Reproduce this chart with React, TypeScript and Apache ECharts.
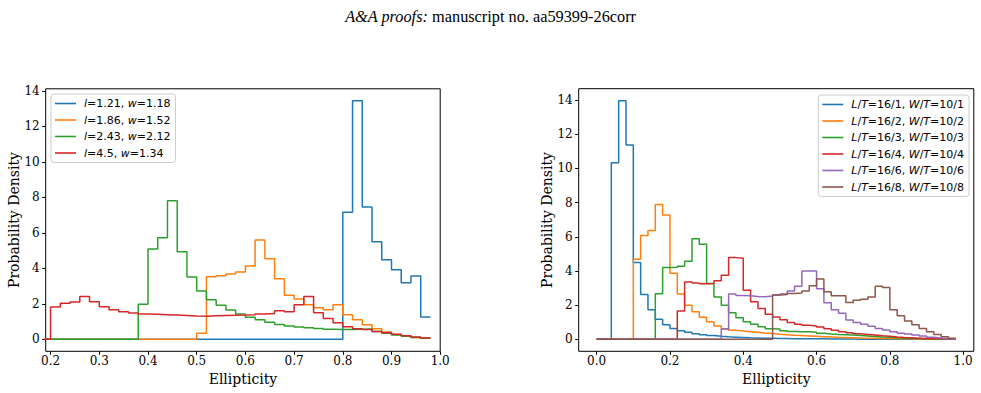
import React, { useEffect, useRef } from 'react';
import * as echarts from 'echarts';

// Histogram bin edges (width 0.02)
const leftEdges = [
  0.18, 0.2, 0.22, 0.24, 0.26, 0.28, 0.3, 0.32, 0.34, 0.36, 0.38, 0.4, 0.42, 0.44,
  0.46, 0.48, 0.5, 0.52, 0.54, 0.56, 0.58, 0.6, 0.62, 0.64, 0.66, 0.68, 0.7, 0.72,
  0.74, 0.76, 0.78, 0.8, 0.82, 0.84, 0.86, 0.88, 0.9, 0.92, 0.94, 0.96, 0.98,
];
const rightEdges = [
  0.0, 0.02, 0.04, 0.06, 0.08, 0.1, 0.12, 0.14, 0.16, 0.18, 0.2, 0.22, 0.24, 0.26,
  0.28, 0.3, 0.32, 0.34, 0.36, 0.38, 0.4, 0.42, 0.44, 0.46, 0.48, 0.5, 0.52, 0.54,
  0.56, 0.58, 0.6, 0.62, 0.64, 0.66, 0.68, 0.7, 0.72, 0.74, 0.76, 0.78, 0.8, 0.82,
  0.84, 0.86, 0.88, 0.9, 0.92, 0.94, 0.96, 0.98,
];

// Left panel: densities per bin
const leftNames = ['l=1.21, w=1.18', 'l=1.86, w=1.52', 'l=2.43, w=2.12', 'l=4.5, w=1.34'];
const densL1 = [
  0, 0, 0, 0, 0, 0, 0, 0, 0, 0, 0, 0, 0, 0, 0, 0, 0, 0, 0, 0, 0, 0, 0, 0, 0, 0, 0, 0, 0, 0,
  0, 7.17, 13.45, 7.46, 5.5, 4.49, 3.92, 3.19, 3.57, 1.26,
];
const densL2 = [
  0, 0, 0, 0, 0, 0, 0, 0, 0, 0, 0, 0, 0, 0, 0, 0,
  0.34, 3.53, 3.58, 3.68, 3.79, 4.13, 5.6, 4.55, 3.42, 2.49, 2.28, 1.95, 1.78, 1.67,
  1.95, 1.39, 1.1, 0.83, 0.6, 0.42, 0.28, 0.2, 0.11, 0.07,
];
const densL3 = [
  0, 0, 0, 0, 0, 0, 0, 0, 0, 0,
  1.98, 5.09, 5.73, 7.81, 4.94, 3.51, 2.73, 2.24, 1.93, 1.65, 1.43, 1.24, 1.11, 0.97,
  0.84, 0.76, 0.7, 0.66, 0.61, 0.57, 0.56, 0.55, 0.57, 0.58, 0.44, 0.34, 0.25, 0.18,
  0.11, 0.06,
];
const densL4 = [
  0, 1.82, 2.03, 2.1, 2.42, 2.12, 1.84, 1.67, 1.56, 1.48, 1.43, 1.41, 1.39, 1.37, 1.35,
  1.32, 1.31, 1.33, 1.35, 1.36, 1.37, 1.39, 1.43, 1.46, 1.62, 1.55, 1.95, 2.42, 1.5,
  1.18, 0.94, 0.71, 0.6, 0.56, 0.45, 0.37, 0.29, 0.21, 0.14, 0.08,
];

// Right panel: densities per bin
const rightNames = [
  'L/T=16/1, W/T=10/1',
  'L/T=16/2, W/T=10/2',
  'L/T=16/3, W/T=10/3',
  'L/T=16/4, W/T=10/4',
  'L/T=16/6, W/T=10/6',
  'L/T=16/8, W/T=10/8',
];
const densR1 = [
  0, 0, 10.33, 13.96, 11.36, 4.5, 2.63, 1.73, 1.17, 0.86, 0.64, 0.5, 0.41, 0.33, 0.27,
  0.22, 0.18, 0.15, 0.13, 0.11, 0.09, 0.08, 0.07, 0.06, 0.05, 0.05, 0.04, 0.04, 0.03,
  0.03, 0.03, 0.02, 0.02, 0.02, 0.02, 0.01, 0.01, 0.01, 0.01, 0.01, 0.01, 0.01, 0.005,
  0.005, 0.005, 0.005, 0, 0, 0,
];
const densR2 = [
  0, 0, 0, 0, 0, 4.68, 6.08, 6.37, 7.89, 7.27, 3.86, 2.65, 1.99, 1.62, 1.29, 1.03, 0.78,
  0.62, 0.53, 0.49, 0.45, 0.41, 0.37, 0.34, 0.3, 0.27, 0.24, 0.22, 0.2, 0.18, 0.16,
  0.14, 0.12, 0.11, 0.1, 0.08, 0.07, 0.06, 0.05, 0.05, 0.04, 0.03, 0.03, 0.02, 0.02,
  0.02, 0.01, 0.01, 0.01,
];
const densR3 = [
  0, 0, 0, 0, 0, 0, 0, 0, 2.67, 4.2, 4.21, 4.27, 4.57, 5.88, 5.56, 3.27, 2.48, 1.99,
  1.56, 1.27, 1.03, 0.88, 0.74, 0.62, 0.6, 0.51, 0.46, 0.45, 0.44, 0.42, 0.36, 0.32,
  0.29, 0.27, 0.25, 0.23, 0.2, 0.17, 0.14, 0.12, 0.1, 0.08, 0.06, 0.05, 0.04, 0.02,
  0.01, 0.01, 0,
];
const densR4 = [
  0, 0, 0, 0, 0, 0, 0, 0, 0, 0, 0, 1.66, 3.36, 3.3, 3.25, 3.26, 3.43, 3.75, 4.78, 4.74,
  2.87, 2.2, 1.8, 1.47, 1.31, 1.15, 0.99, 0.88, 0.82, 0.78, 0.72, 0.62, 0.53, 0.45,
  0.39, 0.33, 0.29, 0.25, 0.21, 0.18, 0.14, 0.11, 0.09, 0.07, 0.05, 0.04, 0.03, 0.02,
  0.01,
];
const densR5 = [
  0, 0, 0, 0, 0, 0, 0, 0, 0, 0, 0, 0, 0, 0, 0, 0, 0, 0.61, 2.66, 2.56, 2.55, 2.51, 2.49,
  2.53, 2.6, 2.65, 2.83, 3.1, 4.0, 4.0, 2.96, 2.14, 1.73, 1.52, 1.13, 0.99, 0.88, 0.76,
  0.64, 0.55, 0.45, 0.36, 0.31, 0.25, 0.19, 0.12, 0.08, 0.04, 0.02,
];
const densR6 = [
  0, 0, 0, 0, 0, 0, 0, 0, 0, 0, 0, 0, 0, 0, 0, 0, 0, 0, 0, 0, 0, 0, 0, 0,
  2.59, 2.63, 2.68, 2.71, 2.83, 3.14, 3.53, 2.79, 2.55, 2.55, 2.16, 2.28, 2.34, 2.48,
  3.1, 3.03, 1.73, 1.38, 1.08, 0.86, 0.64, 0.45, 0.29, 0.16, 0.06,
];

// Tick labels
const leftXTicks = [0.2, 0.3, 0.4, 0.5, 0.6, 0.7, 0.8, 0.9, 1.0];
const rightXTicks = [0.0, 0.2, 0.4, 0.6, 0.8, 1.0];
const yTicks = [0, 2, 4, 6, 8, 10, 12, 14];

const COLORS = ['#1f77b4', '#ff7f0e', '#2ca02c', '#d62728', '#9467bd', '#8c564b'];
const SERIF = 'DejaVu Serif';
const SANS = 'DejaVu Sans';

// (edge, value) pairs for a post-step histogram outline
function stepPoints(edges: number[], values: number[]): number[][] {
  const pts = values.map((v, i) => [edges[i], v]);
  pts.push([edges[values.length], values[values.length - 1]]);
  return pts;
}

const tickLabelStyle = {
  fontFamily: SERIF,
  fontSize: 12,
  color: '#000',
  rich: { s: { fontFamily: SERIF, fontSize: 12, color: '#000' } },
};

function xAxisCfg(grid: number, min: number, max: number, ticks: number[]) {
  return {
    type: 'value',
    gridIndex: grid,
    min,
    max,
    name: 'Ellipticity',
    nameLocation: 'middle',
    nameGap: 18,
    nameTextStyle: { fontFamily: SERIF, fontSize: 14, color: '#000' },
    axisLine: { show: false, onZero: false },
    splitLine: { show: false },
    axisTick: { show: true, length: 3.5, lineStyle: { color: '#000', width: 1 }, customValues: ticks },
    axisLabel: {
      customValues: ticks,
      formatter: (v: number) => `{s|${v.toFixed(1)}}`,
      ...tickLabelStyle,
      margin: 4,
    },
  };
}

function yAxisCfg(grid: number, min: number, max: number) {
  return {
    type: 'value',
    gridIndex: grid,
    min,
    max,
    name: 'Probability Density',
    nameLocation: 'middle',
    nameGap: 24,
    nameTextStyle: { fontFamily: SERIF, fontSize: 14, color: '#000' },
    axisLine: { show: false, onZero: false },
    splitLine: { show: false },
    axisTick: { show: true, length: 3.5, lineStyle: { color: '#000', width: 1 }, customValues: yTicks },
    axisLabel: {
      customValues: yTicks,
      formatter: (v: number) => `{s|${v}}`,
      ...tickLabelStyle,
      margin: 6,
    },
  };
}

function legendCfg(names: string[], pos: Record<string, number>, fmt: (n: string) => string) {
  return {
    data: names,
    orient: 'vertical',
    ...pos,
    selectedMode: false,
    icon: 'rect',
    itemWidth: 21,
    itemHeight: 1.6,
    itemGap: 3.5,
    padding: [3, 5, 3, 4],
    backgroundColor: 'rgba(255,255,255,0.8)',
    borderColor: '#cccccc',
    borderWidth: 1,
    borderRadius: 3,
    formatter: fmt,
    textStyle: {
      fontFamily: SANS,
      fontSize: 11,
      lineHeight: 13,
      color: '#000',
      padding: [0, 0, 0, 3],
      rich: {
        i: { fontFamily: SANS, fontSize: 11, lineHeight: 13, fontStyle: 'italic', color: '#000' },
      },
    },
  };
}

export default function App() {
  const ref = useRef<HTMLDivElement>(null);

  useEffect(() => {
    if (!ref.current) return;
    const chart = echarts.init(ref.current, undefined, { renderer: 'svg' });

    const leftData = [densL1, densL2, densL3, densL4];
    const rightData = [densR1, densR2, densR3, densR4, densR5, densR6];
    const lineSeries = (name: string, data: number[][], idx: number, color: string) => ({
      type: 'line',
      name,
      xAxisIndex: idx,
      yAxisIndex: idx,
      data,
      step: 'end',
      symbol: 'none',
      showSymbol: false,
      clip: true,
      lineStyle: { width: 1.5, color },
      itemStyle: { color },
      emphasis: { disabled: true },
    });

    const leftMax = Math.max(...leftData.flat());
    const rightMax = Math.max(...rightData.flat());

    chart.setOption({
      animation: false,
      backgroundColor: '#ffffff',
      textStyle: { fontFamily: SERIF },
      title: {
        text: '{it|A&A proofs:} manuscript no. aa59399-26corr',
        left: 'center',
        top: 3,
        textStyle: {
          fontFamily: 'Liberation Serif',
          fontSize: 16.3,
          fontWeight: 'normal',
          color: '#000',
          rich: {
            it: { fontFamily: 'Liberation Serif', fontSize: 16.3, fontStyle: 'italic', color: '#000' },
          },
        },
      },
      grid: [
        { left: 45.7, top: 88.8, width: 394.5, height: 262.5, show: true, borderColor: '#000', borderWidth: 1, backgroundColor: 'transparent' },
        { left: 578.7, top: 88.7, width: 395.1, height: 262.6, show: true, borderColor: '#000', borderWidth: 1, backgroundColor: 'transparent' },
      ],
      xAxis: [
        xAxisCfg(0, 0.19, 1.0, leftXTicks),
        xAxisCfg(1, -0.049, 1.029, rightXTicks),
      ],
      yAxis: [
        yAxisCfg(0, -0.05 * leftMax, 1.05 * leftMax),
        yAxisCfg(1, -0.05 * rightMax, 1.05 * rightMax),
      ],
      legend: [
        legendCfg(leftNames, { left: 51, top: 94 }, (n: string) =>
          n.replace('l=', '{i|l}=').replace('w=', '{i|w}=')
        ),
        legendCfg(rightNames, { right: 12, top: 95 }, (n: string) =>
          n.replace('L/T', '{i|L}/{i|T}').replace('W/T', '{i|W}/{i|T}')
        ),
      ],
      series: [
        ...leftNames.map((n, i) => lineSeries(n, stepPoints(leftEdges, leftData[i]), 0, COLORS[i])),
        ...rightNames.map((n, i) => lineSeries(n, stepPoints(rightEdges, rightData[i]), 1, COLORS[i])),
      ],
    });

    return () => chart.dispose();
  }, []);

  return (
    <div
      ref={ref}
      style={{ position: 'fixed', left: 0, top: 0, width: 981, height: 393, background: '#fff' }}
    />
  );
}
